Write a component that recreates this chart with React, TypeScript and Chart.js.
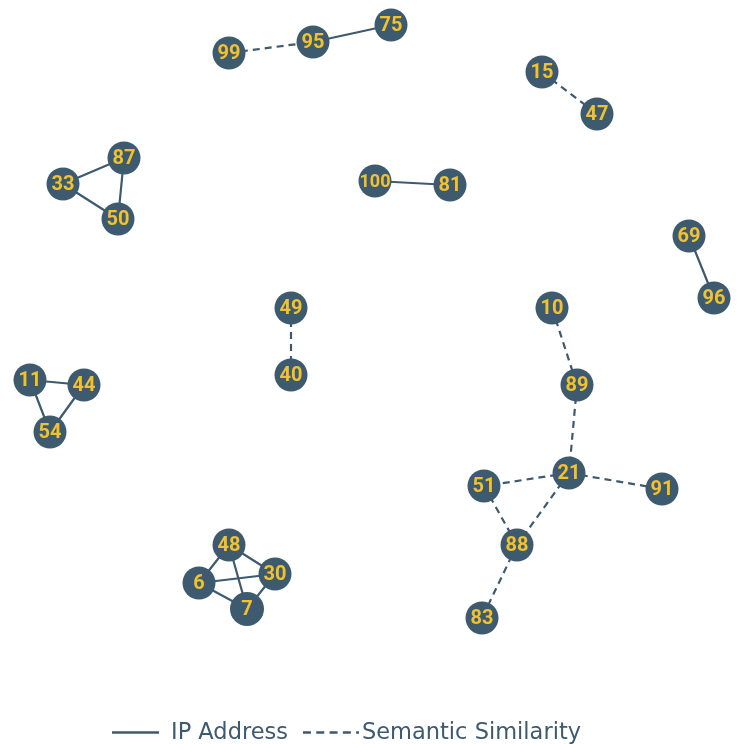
import React, { useEffect, useRef } from "react";
import { Chart, registerables } from "chart.js";

Chart.register(...registerables);

const nodeIds = ["99","95","75","15","47","87","33","50","100","81","69","96","49","40","10","89","11","44","54","21","51","91","88","83","48","6","30","7"];
const nodeX = [229,313,391,542,597,124,63,118,375,450,689,714,291,291,552,577,30,84,50,569,484,662,517,482,229,199,275,247];
const nodeY = [53,42,25,72,114,158,184,219,181,185,236,298,308,375,308,385,380,385,432,473,486,489,545,618,545,583,574,609];

const ipEdges: [string, string][] = [
  ["95","75"],["87","33"],["87","50"],["33","50"],["100","81"],["69","96"],
  ["11","44"],["11","54"],["44","54"],
  ["48","6"],["48","30"],["48","7"],["6","30"],["6","7"],["30","7"],
];
const semEdges: [string, string][] = [
  ["99","95"],["15","47"],["49","40"],["10","89"],["89","21"],["21","51"],
  ["21","91"],["21","88"],["51","88"],["88","83"],
];

const legendLabels = ["IP Address", "Semantic Similarity"];

const NODE = "#3d5a6e";
const LABEL = "#f2c12e";

function edgeData(edges: [string, string][]) {
  const out: any[] = [];
  edges.forEach(([a, b]) => {
    const i = nodeIds.indexOf(a);
    const j = nodeIds.indexOf(b);
    out.push({ x: nodeX[i], y: nodeY[i] });
    out.push({ x: nodeX[j], y: nodeY[j] });
    out.push({ x: nodeX[i], y: null });
  });
  return out;
}

const labelPlugin = {
  id: "nodeLabels",
  afterDatasetsDraw(chart: any) {
    const meta = chart.getDatasetMeta(0);
    const ctx = chart.ctx;
    ctx.save();
    ctx.fillStyle = LABEL;
    ctx.textAlign = "center";
    ctx.textBaseline = "middle";
    meta.data.forEach((pt: any, i: number) => {
      const id = nodeIds[i];
      ctx.font = id.length > 2 ? "bold 18px Roboto" : "bold 20px Roboto";
      ctx.fillText(id, pt.x, pt.y + 1);
    });
    ctx.restore();
  },
};

const legendPlugin = {
  id: "lineLegend",
  afterDraw(chart: any) {
    const ctx = chart.ctx;
    const y = 732.5;
    const lineLens = [47, 56];
    let x = 112;
    ctx.save();
    ctx.font = "22.5px 'DejaVu Sans'";
    ctx.textBaseline = "alphabetic";
    ctx.textAlign = "left";
    [1, 2].forEach((dsIndex, k) => {
      const ds = chart.data.datasets[dsIndex];
      ctx.strokeStyle = ds.borderColor;
      ctx.lineWidth = 2.5;
      ctx.setLineDash(ds.borderDash ? [8, 5.3] : []);
      ctx.beginPath();
      ctx.moveTo(x, y);
      ctx.lineTo(x + lineLens[k], y);
      ctx.stroke();
      ctx.setLineDash([]);
      x += lineLens[k] + (k === 0 ? 12 : 3);
      ctx.fillStyle = NODE;
      ctx.fillText(ds.label, x, 739);
      x += ctx.measureText(ds.label).width + 15;
    });
    ctx.restore();
  },
};

export default function App() {
  const ref = useRef<HTMLCanvasElement>(null);
  useEffect(() => {
    if (!ref.current) return;
    const chart = new Chart(ref.current, {
      type: "scatter",
      data: {
        datasets: [
          {
            label: "nodes",
            data: nodeX.map((x, i) => ({ x, y: nodeY[i] })),
            pointRadius: nodeIds.map((id) => (id === "7" ? 17 : 16.5)),
            pointBackgroundColor: NODE,
            pointBorderWidth: 0,
            showLine: false,
            clip: false,
          } as any,
          {
            label: legendLabels[0],
            data: edgeData(ipEdges),
            showLine: true,
            spanGaps: false,
            borderColor: NODE,
            backgroundColor: "transparent",
            borderWidth: 2.2,
            pointRadius: 0,
            clip: false,
          } as any,
          {
            label: legendLabels[1],
            data: edgeData(semEdges),
            showLine: true,
            spanGaps: false,
            borderColor: NODE,
            backgroundColor: "transparent",
            borderWidth: 2.2,
            borderDash: [7, 5],
            pointRadius: 0,
            clip: false,
          } as any,
        ],
      },
      options: {
        animation: false,
        responsive: false,
        events: [],
        layout: { autoPadding: false, padding: 0 },
        scales: {
          x: { type: "linear", min: 0, max: 741, display: false },
          y: { type: "linear", min: 0, max: 744, reverse: true, display: false },
        },
        plugins: {
          tooltip: { enabled: false },
          legend: { display: false },
        },
      },
      plugins: [labelPlugin, legendPlugin],
    });
    return () => chart.destroy();
  }, []);
  return (
    <div style={{ position: "fixed", left: 0, top: 0, width: 741, height: 744 }}>
      <canvas ref={ref} width={741} height={744} style={{ width: 741, height: 744 }} />
    </div>
  );
}
